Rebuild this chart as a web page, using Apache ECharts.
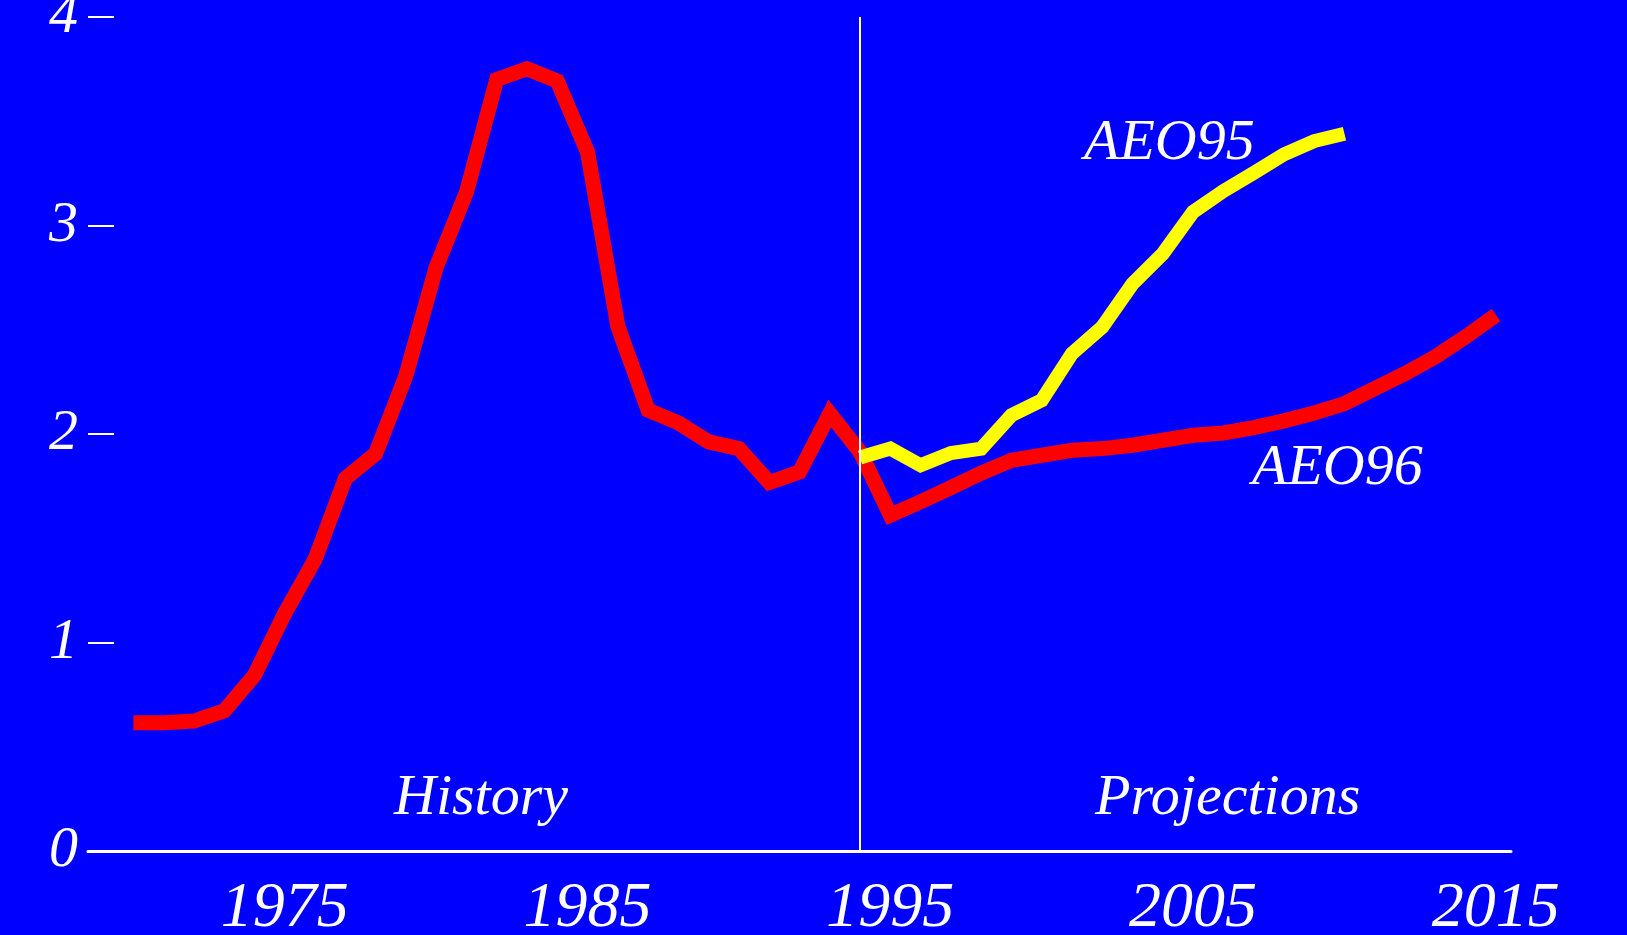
<!DOCTYPE html>
<html>
<head>
    <meta charset="utf-8" />
    <title>AEO95 vs AEO96</title>
    <script src="https://cdn.jsdelivr.net/npm/echarts@6/dist/echarts.min.js"></script>
    <style>
        html, body { margin: 0; padding: 0; background: #0000ff; }
        #main { width: 1627px; height: 935px; }
    </style>
</head>
<body>
<div id="main"></div>
<script type="text/javascript">
    // history 1970-1994, then AEO96 projection 1995-2015 (same red line)
    var historyStart = 1970;
    var historyValues = [0.615, 0.615, 0.623, 0.672, 0.844, 1.14, 1.40, 1.787, 1.906, 2.28,
        2.80, 3.16, 3.70, 3.752, 3.693, 3.352, 2.517, 2.114, 2.053, 1.962,
        1.930, 1.767, 1.818, 2.098, 1.914];
    var aeo96Start = 1995;
    var aeo96Values = [1.611, 1.675, 1.743, 1.813, 1.874, 1.898, 1.922, 1.930, 1.946, 1.970,
        1.994, 2.005, 2.031, 2.063, 2.101, 2.146, 2.218, 2.29, 2.37, 2.466, 2.57];
    var aeo95Start = 1994;
    var aeo95Values = [1.887, 1.93, 1.85, 1.909, 1.93, 2.09, 2.162, 2.386, 2.513, 2.721,
        2.865, 3.065, 3.165, 3.252, 3.341, 3.405, 3.44];
    var xTickLabels = [1975, 1985, 1995, 2005, 2015];
    var yTickLabels = [0, 1, 2, 3, 4];
    var splitYear = 1994;

    function toPairs(start, values) {
        var out = [];
        for (var i = 0; i < values.length; i++) {
            out.push([start + i, values[i]]);
        }
        return out;
    }

    var redData = toPairs(historyStart, historyValues).concat(toPairs(aeo96Start, aeo96Values));
    var yellowData = toPairs(aeo95Start, aeo95Values);

    var serif = '"Liberation Serif", "DejaVu Serif", serif';
    var textStyle = {
        fill: '#ffffff',
        fontFamily: serif,
        fontStyle: 'italic',
        fontSize: 58
    };

    var option = {
        backgroundColor: '#0000ff',
        animation: false,
        grid: { left: 88, right: 116, top: 17, bottom: 84, outerBoundsMode: 'none', containLabel: false },
        xAxis: {
            type: 'value',
            min: 1968.5,
            max: 2015.5,
            axisLine: { show: true, lineStyle: { color: '#ffffff', width: 3 } },
            axisTick: { show: false },
            splitLine: { show: false },
            axisLabel: {
                customValues: xTickLabels,
                formatter: function (v) { return String(v); },
                color: '#ffffff',
                fontFamily: serif,
                fontStyle: 'italic',
                fontSize: 64,
                margin: 26
            }
        },
        yAxis: {
            type: 'value',
            min: 0,
            max: 4,
            interval: 1,
            axisLine: { show: false },
            axisTick: { show: true, inside: true, length: 26, lineStyle: { color: '#ffffff', width: 2 } },
            splitLine: { show: false },
            axisLabel: {
                customValues: yTickLabels,
                color: '#ffffff',
                fontFamily: serif,
                fontStyle: 'italic',
                fontSize: 58,
                margin: 10
            }
        },
        series: [{
            name: 'AEO96',
            type: 'line',
            data: redData,
            showSymbol: false,
            z: 2,
            lineStyle: { color: '#ff0000', width: 15, join: 'miter', cap: 'butt' },
            markLine: {
                silent: true,
                symbol: ['none', 'none'],
                label: { show: false },
                lineStyle: { color: '#ffffff', width: 2, type: 'solid' },
                data: [[{ coord: [splitYear, 0] }, { coord: [splitYear, 4] }]]
            }
        }, {
            name: 'AEO95',
            type: 'line',
            data: yellowData,
            showSymbol: false,
            z: 3,
            lineStyle: { color: '#ffff00', width: 14, join: 'miter', cap: 'butt' }
        }],
        graphic: [
            { type: 'text', left: 1084, top: 115, style: Object.assign({ text: 'AEO95' }, textStyle) },
            { type: 'text', left: 1252, top: 440, style: Object.assign({ text: 'AEO96' }, textStyle) },
            { type: 'text', left: 394, top: 770, style: Object.assign({ text: 'History' }, textStyle) },
            { type: 'text', left: 1095, top: 770, style: Object.assign({ text: 'Projections' }, textStyle) }
        ]
    };

    var myChart = echarts.init(document.getElementById('main'));
    myChart.setOption(option);
</script>
</body>
</html>
